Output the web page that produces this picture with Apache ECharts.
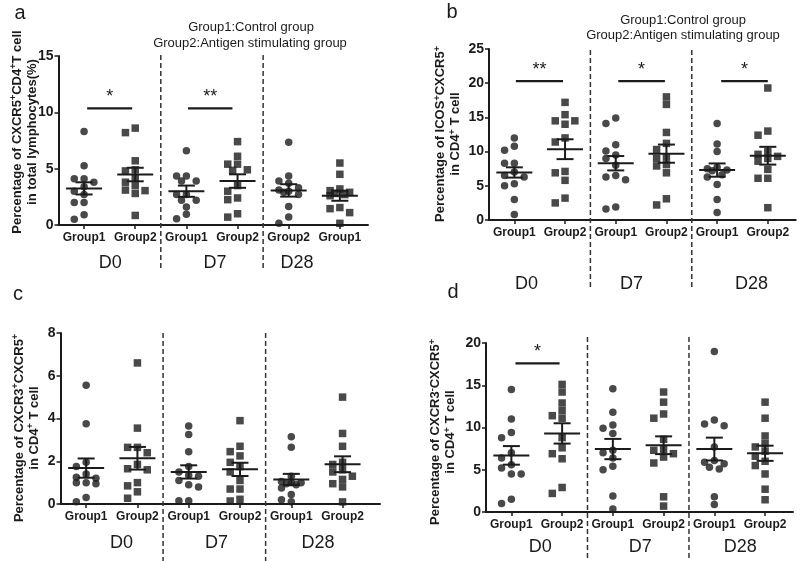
<!DOCTYPE html>
<html><head><meta charset="utf-8">
<script src="https://cdn.jsdelivr.net/npm/echarts@6/dist/echarts.min.js"></script>
<style>html,body{margin:0;padding:0;background:#fff}#c{width:800px;height:561px}</style>
</head><body><div id="c"></div>
<script>
// ---------- DATA ----------
const groupPositions = [1, 2, 3, 4, 5, 6];
const groupLabels = ['Group1', 'Group2', 'Group1', 'Group2', 'Group1', 'Group2'];
const groupLabelsA = ['Group1', 'Group2', 'Group1', 'Group2', 'Group2', 'Group1'];
const dayLabels = ['D0', 'D7', 'D28'];
const dividerPositions = [2.5, 4.5];

// panel a
const a_yTicks = [0, 5, 10, 15];
const a_D0_G1 = [8.3, 5.25, 4.1, 4.1, 3.8, 3.4, 3.0, 2.7, 2.0, 2.0, 0.9, 0.5];
const a_D0_G2 = [8.6, 8.2, 5.7, 4.9, 4.8, 4.2, 3.8, 3.5, 3.1, 3.05, 2.8, 0.85];
const a_D7_G1 = [6.6, 4.35, 4.35, 3.9, 3.9, 2.7, 2.7, 2.2, 2.2, 1.6, 0.95, 0.55];
const a_D7_G2 = [7.4, 6.1, 5.4, 5.4, 4.9, 4.85, 3.5, 3.0, 2.4, 2.25, 1.0, 0.7];
const a_D28_G2 = [7.35, 4.35, 3.9, 3.7, 3.3, 3.1, 3.0, 2.9, 2.7, 1.65, 0.7, 0.15];
const a_D28_G1 = [5.5, 4.5, 3.2, 3.05, 2.9, 2.8, 2.7, 2.6, 1.55, 1.45, 1.1, 0.15];
const a_mean = [3.25, 4.48, 3.0, 3.9, 3.07, 2.6];
const a_sem = [0.54, 0.6, 0.5, 0.6, 0.55, 0.45];
const a_sig = [[1.06, 1.94, 10.35, '*'], [3.03, 3.9, 10.35, '**']];

// panel b
const b_yTicks = [0, 5, 10, 15, 20, 25];
const b_D0_G1 = [12.0, 10.8, 10.2, 8.3, 8.3, 7.0, 6.5, 6.3, 5.3, 5.0, 3.0, 0.8];
const b_D0_G2 = [17.2, 15.4, 14.5, 14.5, 14.0, 12.0, 11.4, 7.1, 6.9, 5.8, 3.2, 2.5];
const b_D7_G1 = [14.9, 14.1, 11.0, 10.1, 9.5, 9.0, 8.0, 6.5, 6.3, 5.9, 1.9, 1.6];
const b_D7_G2 = [18.0, 16.9, 12.8, 11.2, 10.3, 9.2, 9.0, 8.1, 7.9, 6.9, 3.1, 2.2];
const b_D28_G1 = [14.1, 11.1, 10.0, 7.7, 7.5, 7.3, 7.2, 6.6, 6.3, 5.2, 3.0, 1.1];
const b_D28_G2 = [19.3, 13.0, 12.4, 10.0, 9.6, 9.3, 9.0, 8.6, 7.4, 6.1, 6.1, 1.8];
const b_mean = [6.95, 10.35, 8.3, 9.7, 7.3, 9.4];
const b_sem = [0.75, 1.45, 1.05, 1.33, 0.97, 1.3];
const b_sig = [[1.03, 1.96, 20.3, '**'], [3.05, 3.97, 20.3, '*'], [5.08, 6.0, 20.3, '*']];

// panel c
const c_yTicks = [0, 2, 4, 6, 8];
const c_D0_G1 = [5.55, 3.75, 1.95, 1.75, 1.4, 1.25, 1.2, 1.0, 1.0, 0.95, 0.3, 0.1];
const c_D0_G2 = [6.6, 3.55, 2.65, 2.65, 2.4, 1.85, 1.65, 1.6, 1.0, 0.85, 0.57, 0.27];
const c_D7_G1 = [3.65, 3.25, 2.45, 1.75, 1.5, 1.35, 1.3, 1.1, 0.9, 0.8, 0.15, 0.15];
const c_D7_G2 = [3.9, 2.7, 2.45, 2.25, 1.95, 1.75, 1.5, 1.1, 0.7, 0.7, 0.22, 0.14];
const c_D28_G1 = [3.15, 2.65, 1.3, 1.05, 1.0, 1.0, 0.95, 0.9, 0.75, 0.45, 0.2, 0.1];
const c_D28_G2 = [5.0, 3.3, 2.7, 1.95, 1.85, 1.6, 1.5, 1.3, 1.15, 0.95, 0.8, 0.1];
const c_mean = [1.68, 2.14, 1.5, 1.62, 1.15, 1.86];
const c_sem = [0.45, 0.53, 0.31, 0.31, 0.26, 0.37];
const c_sig = [];

// panel d
const d_yTicks = [0, 5, 10, 15, 20];
const d_D0_G1 = [14.5, 11.0, 9.4, 8.8, 7.0, 6.4, 5.6, 5.2, 4.5, 4.5, 1.5, 1.0];
const d_D0_G2 = [15.1, 14.2, 12.9, 12.0, 11.4, 11.1, 8.8, 7.6, 6.9, 6.3, 2.9, 2.2];
const d_D7_G1 = [14.6, 11.8, 10.3, 9.9, 9.3, 7.3, 7.0, 6.4, 5.4, 5.0, 1.9, 0.35];
const d_D7_G2 = [14.2, 13.0, 11.6, 11.1, 8.6, 7.4, 7.3, 6.9, 6.5, 5.8, 1.8, 0.7];
const d_D28_G1 = [19.0, 10.9, 10.4, 10.2, 7.7, 6.1, 5.9, 5.7, 5.3, 5.1, 1.8, 0.9];
const d_D28_G2 = [13.0, 11.1, 9.0, 8.1, 7.7, 7.2, 6.6, 6.0, 5.5, 4.5, 2.7, 1.45];
const d_mean = [6.7, 9.3, 7.45, 7.9, 7.45, 6.95];
const d_sem = [1.1, 1.2, 1.2, 1.05, 1.35, 0.9];
const d_sig = [[1.08, 1.95, 17.6, '*']];

// ---------- LAYOUT / STYLE ----------
const FONT = '"Liberation Sans", Arial, Helvetica, sans-serif';
const INK = '#1b1b1b';

const panels = [
  { groups: [a_D0_G1, a_D0_G2, a_D7_G1, a_D7_G2, a_D28_G2, a_D28_G1], mean: a_mean, sem: a_sem, sig: a_sig,
    ticks: a_yTicks, names: groupLabelsA,
    box: { left: 58.5, top: 56, width: 309.5, height: 169 }, xMin: 0.5, xMax: 6.55,
    dayPos: [1.51, 3.56, 5.16], dayMargin: 29, divTop: -1, divBottom: 45 },
  { groups: [b_D0_G1, b_D0_G2, b_D7_G1, b_D7_G2, b_D28_G1, b_D28_G2], mean: b_mean, sem: b_sem, sig: b_sig,
    ticks: b_yTicks, names: groupLabels,
    box: { left: 489, top: 49, width: 306.7, height: 171 }, xMin: 0.5, xMax: 6.55,
    dayPos: [1.24, 3.31, 5.68], dayMargin: 55, divTop: 1, divBottom: 67 },
  { groups: [c_D0_G1, c_D0_G2, c_D7_G1, c_D7_G2, c_D28_G1, c_D28_G2], mean: c_mean, sem: c_sem, sig: c_sig,
    ticks: c_yTicks, names: groupLabels,
    box: { left: 60.5, top: 333, width: 319.5, height: 171 }, xMin: 0.5, xMax: 6.73,
    dayPos: [1.69, 3.54, 5.52], dayMargin: 30, divTop: 0, divBottom: 57 },
  { groups: [d_D0_G1, d_D0_G2, d_D7_G1, d_D7_G2, d_D28_G1, d_D28_G2], mean: d_mean, sem: d_sem, sig: d_sig,
    ticks: d_yTicks, names: groupLabels,
    box: { left: 486, top: 343, width: 307, height: 169 }, xMin: 0.5, xMax: 6.55,
    dayPos: [1.57, 3.54, 5.51], dayMargin: 26, divTop: -6, divBottom: 49 }
];

// Prism-like horizontal spreading of overlapping points (pixel space), limited to +-1 slot
function swarm(vals, pxY, pxX) {
  const order = vals.map((v, i) => i).sort((p, q) => vals[q] - vals[p]);
  const placed = [];
  const off = new Array(vals.length).fill(0);
  const step = 9.8, d = 7.2;
  const slots = [0, -1, 1, -0.5, 0.5];
  for (const i of order) {
    const y = vals[i] * pxY;
    let bestX = 0, bestD = -1;
    for (const s of slots) {
      const x = s * step;
      const md = placed.reduce((m, p) => Math.min(m, Math.hypot(p.x - x, p.y - y)), 1e9);
      if (md >= d) { bestX = x; bestD = md; break; }
      if (md > bestD) { bestD = md; bestX = x; }
    }
    placed.push({ x: bestX, y });
    off[i] = bestX / pxX;
  }
  return off;
}

const grid = [], xAxis = [], yAxis = [], series = [];

panels.forEach((p, i) => {
  const yMax = p.ticks[p.ticks.length - 1];
  const yInt = p.ticks[1] - p.ticks[0];
  grid.push(Object.assign({ containLabel: false, outerBoundsMode: 'none' }, p.box));
  xAxis.push({
    type: 'value', gridIndex: i, position: 'bottom', min: p.xMin, max: p.xMax,
    axisLine: { show: true, onZero: false, lineStyle: { color: INK, width: 2 } },
    axisTick: { show: true, length: 4, customValues: groupPositions, lineStyle: { color: INK, width: 1.5 } },
    axisLabel: { customValues: groupPositions, margin: 7, color: INK, fontFamily: FONT, fontWeight: 'bold', fontSize: 12,
      formatter: v => p.names[Math.round(v) - 1] || '' },
    splitLine: { show: false }
  });
  xAxis.push({
    type: 'value', gridIndex: i, position: 'bottom', min: p.xMin, max: p.xMax,
    axisLine: { show: false }, axisTick: { show: false }, splitLine: { show: false },
    axisLabel: { customValues: p.dayPos, margin: p.dayMargin, color: INK, fontFamily: FONT, fontSize: 18,
      formatter: v => { let k = 0, best = 1e9; p.dayPos.forEach((q, j) => { if (Math.abs(q - v) < best) { best = Math.abs(q - v); k = j; } }); return dayLabels[k]; } }
  });
  yAxis.push({
    type: 'value', gridIndex: i, min: 0, max: yMax, interval: yInt,
    axisLine: { show: true, lineStyle: { color: INK, width: 2 } },
    axisTick: { show: true, length: 4, lineStyle: { color: INK, width: 1.5 } },
    axisLabel: { color: INK, fontFamily: FONT, fontWeight: 'bold', fontSize: 14, margin: 5 },
    splitLine: { show: false }
  });

  const pxY = p.box.height / yMax;
  const pxX = p.box.width / (p.xMax - p.xMin);

  p.groups.forEach((vals, k) => {
    const off = swarm(vals, pxY, pxX);
    series.push({
      type: 'scatter', xAxisIndex: 2 * i, yAxisIndex: i, z: 3,
      symbol: (k % 2 === 0) ? 'circle' : 'rect', symbolSize: 7.5,
      itemStyle: { color: INK },
      data: vals.map((v, j) => [groupPositions[k] + off[j], v]),
      silent: true
    });
  });

  // mean ± SEM
  series.push({
    type: 'custom', xAxisIndex: 2 * i, yAxisIndex: i, z: 5, silent: true,
    data: p.mean.map((m, k) => [groupPositions[k], m, p.sem[k]]),
    encode: { x: 0, y: 1 },
    renderItem(params, api) {
      const x = api.value(0), m = api.value(1), s = api.value(2);
      const c = api.coord([x, m]), u = api.coord([x, m + s]), l = api.coord([x, m - s]);
      const st = { stroke: INK, lineWidth: 2 };
      return { type: 'group', children: [
        { type: 'line', shape: { x1: c[0] - 18, y1: c[1], x2: c[0] + 18, y2: c[1] }, style: st },
        { type: 'line', shape: { x1: u[0], y1: u[1], x2: l[0], y2: l[1] }, style: st },
        { type: 'line', shape: { x1: u[0] - 8.5, y1: u[1], x2: u[0] + 8.5, y2: u[1] }, style: st },
        { type: 'line', shape: { x1: l[0] - 8.5, y1: l[1], x2: l[0] + 8.5, y2: l[1] }, style: st }
      ] };
    }
  });

  // dashed dividers
  series.push({
    type: 'custom', xAxisIndex: 2 * i, yAxisIndex: i, z: 2, silent: true, clip: false,
    data: dividerPositions.map(x => [x, 0]),
    encode: { x: 0, y: 1 },
    renderItem(params, api) {
      const c = api.coord([api.value(0), 0]);
      const cs = params.coordSys;
      return { type: 'line', shape: { x1: c[0], y1: cs.y + p.divTop, x2: c[0], y2: cs.y + cs.height + p.divBottom },
        style: { stroke: '#333', lineWidth: 1.5, lineDash: [5, 3] } };
    }
  });

  // significance bars
  if (p.sig.length) {
    series.push({
      type: 'custom', xAxisIndex: 2 * i, yAxisIndex: i, z: 4, silent: true, clip: false,
      data: p.sig.map(s => [s[0], s[1], s[2]]),
      encode: { x: [0, 1], y: 2 },
      renderItem(params, api) {
        const a = api.coord([api.value(0), api.value(2)]);
        const b = api.coord([api.value(1), api.value(2)]);
        const txt = p.sig[params.dataIndex][3];
        return { type: 'group', children: [
          { type: 'line', shape: { x1: a[0], y1: a[1], x2: b[0], y2: b[1] }, style: { stroke: INK, lineWidth: 2.2 } },
          { type: 'text', x: (a[0] + b[0]) / 2, y: a[1] - 2,
            style: { text: txt, fill: INK, font: '18px ' + FONT, align: 'center', verticalAlign: 'bottom' } }
        ] };
      }
    });
  }
});

const titleRich = {
  s: { fontSize: 9, fontWeight: 'bold', fontFamily: FONT, fill: INK, verticalAlign: 'top', lineHeight: 9 }
};
function yTitle(x, y, text) {
  return { type: 'text', x: x, y: y, rotation: Math.PI / 2,
    style: { text: text, rich: titleRich, fill: INK, font: 'bold 13px ' + FONT, align: 'center', verticalAlign: 'middle', lineHeight: 15 } };
}
function plain(x, y, text, font, align) {
  return { type: 'text', x: x, y: y, style: { text: text, fill: INK, font: font, align: align || 'center', verticalAlign: 'middle' } };
}

const graphic = [
  plain(20, 13, 'a', '20px ' + FONT, 'center'),
  plain(452, 12, 'b', '20px ' + FONT, 'center'),
  plain(18, 294, 'c', '20px ' + FONT, 'center'),
  plain(453, 292, 'd', '20px ' + FONT, 'center'),
  plain(251, 27, 'Group1:Control group', '13px ' + FONT),
  plain(250, 43, 'Group2:Antigen stimulating group', '13px ' + FONT),
  plain(683, 20, 'Group1:Control group', '13px ' + FONT),
  plain(683, 35, 'Group2:Antigen stimulating group', '13px ' + FONT),
  yTitle(24.5, 132, 'Percentage of CXCR5{s|+}CD4{s|+}T cell\nin total lymphocytes(%)'),
  yTitle(448, 134, 'Percentage of ICOS{s|+}CXCR5{s|+}\nin CD4{s|+} T cell'),
  yTitle(26.5, 428, 'Percentage of CXCR3{s|+}CXCR5{s|+}\nin CD4{s|+} T cell'),
  yTitle(443, 432, 'Percentage of CXCR3{s|-}CXCR5{s|+}\nin CD4{s|+} T cell')
];

const chart = echarts.init(document.getElementById('c'), null, { renderer: 'canvas' });
chart.setOption({
  animation: false,
  backgroundColor: '#fff',
  textStyle: { fontFamily: FONT },
  grid, xAxis, yAxis, series, graphic
});
</script>
</body></html>
